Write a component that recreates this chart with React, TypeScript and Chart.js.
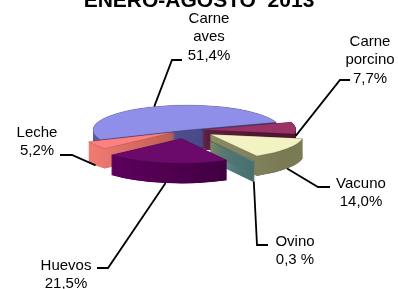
import React, { useEffect, useRef } from "react";
import { Chart, registerables } from "chart.js";
Chart.register(...registerables);

// ---- data ----
const categories = ["Carne porcino", "Vacuno", "Ovino", "Huevos", "Leche", "Carne aves"];
const shares = [7.7, 14.0, 0.3, 21.5, 5.2, 51.4];
const shareLabels = ["7,7%", "14,0%", "0,3 %", "21,5%", "5,2%", "51,4%"];
const title = "ENERO-AGOSTO  2013";

// ---- styles ----
const topColors = ["#993366", "#F2F2C2", "#7FA8A8", "#6B0A6B", "#FF8080", "#8F8FEA"];
const sideLight = ["#7A2850", "#A8A87E", "#5E8A8A", "#620062", "#F07A70", "#5A5A9E"];
const sideDark = ["#4D1530", "#7A7A55", "#456B6B", "#330033", "#7A3A30", "#3E3E78"];
const explode = [15, 28, 42, 32, 14, 0];
const TILT = 0.266;
const DEPTH = 20;
// label layout: text center x, first baseline, knee points, depth fraction of anchor
const labelBox = [
  { cx: 370, by: 46, knee: [[350, 80], [340, 80]], dep: 0.4 },
  { cx: 361, by: 188, knee: [[330, 187], [318, 187]], dep: 1 },
  { cx: 295, by: 246, knee: [[268, 245], [257, 245]], dep: 1 },
  { cx: 66, by: 270, knee: [[97, 268], [108, 268]], dep: 1 },
  { cx: 37, by: 137, knee: [[60, 155], [72, 155]], dep: 1 },
  { cx: 209, by: 23, knee: [[182, 60], [172, 60]], dep: 0 },
];
const LINE_GAP = 18.3;
const FONT = "15px 'Liberation Sans', Arial, sans-serif";

function sectorPath(ctx: any, x: number, y: number, ox: number, oy: number, R: number, s: number, e: number) {
  ctx.save();
  ctx.translate(x, y);
  ctx.scale(1, TILT);
  ctx.beginPath();
  ctx.moveTo(ox, oy);
  ctx.arc(ox, oy, R, s, e);
  ctx.closePath();
  ctx.restore();
}

const pie3d = {
  id: "pie3d",
  beforeDatasetsDraw(chart: any) {
    const ctx = chart.ctx;
    const arcs = chart.getDatasetMeta(0).data;
    const geo = arcs.map((a: any) => a.getProps(["x", "y", "startAngle", "endAngle", "outerRadius"], true));
    const order = geo.map((_: any, i: number) => i).sort(
      (a: number, b: number) =>
        Math.sin((geo[a].startAngle + geo[a].endAngle) / 2) - Math.sin((geo[b].startAngle + geo[b].endAngle) / 2)
    );
    for (const i of order) {
      const { x, y, startAngle, endAngle, outerRadius: R } = geo[i];
      const mid = (startAngle + endAngle) / 2;
      const ox = Math.cos(mid) * explode[i];
      const oy = Math.sin(mid) * explode[i];
      const g = ctx.createLinearGradient(x - R, 0, x + R, 0);
      g.addColorStop(0, sideLight[i]);
      g.addColorStop(1, sideDark[i]);
      ctx.fillStyle = g;
      for (let d = DEPTH; d >= 0.25; d -= 0.25) {
        sectorPath(ctx, x, y + d, ox, oy, R, startAngle, endAngle);
        ctx.fill();
      }
      sectorPath(ctx, x, y, ox, oy, R, startAngle, endAngle);
      ctx.fillStyle = topColors[i];
      ctx.fill();
      ctx.strokeStyle = "rgba(0,0,0,0.18)";
      ctx.lineWidth = 0.8;
      ctx.stroke();
    }
    return false;
  },
  afterDraw(chart: any) {
    const ctx = chart.ctx;
    const arcs = chart.getDatasetMeta(0).data;
    ctx.save();
    ctx.fillStyle = "#000";
    ctx.font = "bold 21px 'Liberation Sans', Arial, sans-serif";
    ctx.textAlign = "center";
    ctx.textBaseline = "alphabetic";
    ctx.fillText(title, 199, 7);
    ctx.font = FONT;
    arcs.forEach((a: any, i: number) => {
      const { x, y, startAngle, endAngle, outerRadius: R } = a.getProps(
        ["x", "y", "startAngle", "endAngle", "outerRadius"], true);
      const mid = (startAngle + endAngle) / 2;
      const px = x + Math.cos(mid) * (R + explode[i]);
      const py = y + Math.sin(mid) * (R + explode[i]) * TILT + DEPTH * labelBox[i].dep;
      const lines = [...categories[i].split(" "), shareLabels[i]];
      const lb = labelBox[i];
      ctx.fillStyle = "#000";
      lines.forEach((t, k) => ctx.fillText(t, lb.cx, lb.by + k * LINE_GAP));
      ctx.beginPath();
      ctx.moveTo(lb.knee[0][0], lb.knee[0][1]);
      ctx.lineTo(lb.knee[1][0], lb.knee[1][1]);
      ctx.lineTo(px, py);
      ctx.strokeStyle = "#000";
      ctx.lineWidth = 1.8;
      ctx.stroke();
    });
    ctx.restore();
  },
};

export default function App() {
  const ref = useRef<HTMLCanvasElement>(null);
  useEffect(() => {
    if (!ref.current) return;
    const chart = new Chart(ref.current, {
      type: "pie",
      data: {
        labels: categories,
        datasets: [{ data: shares, backgroundColor: topColors, borderWidth: 0, radius: 94 } as any],
      },
      options: {
        responsive: false,
        animation: false,
        rotation: 72,
        events: [],
        layout: { padding: { left: 0, right: 24, top: 0, bottom: 29 } },
        plugins: { legend: { display: false }, tooltip: { enabled: false }, title: { display: false } },
      },
      plugins: [pie3d],
    });
    return () => chart.destroy();
  }, []);
  return (
    <div style={{ position: "absolute", left: 0, top: 0, width: 398, height: 289, background: "#fff" }}>
      <canvas ref={ref} width={398} height={289} style={{ display: "block" }} />
    </div>
  );
}
